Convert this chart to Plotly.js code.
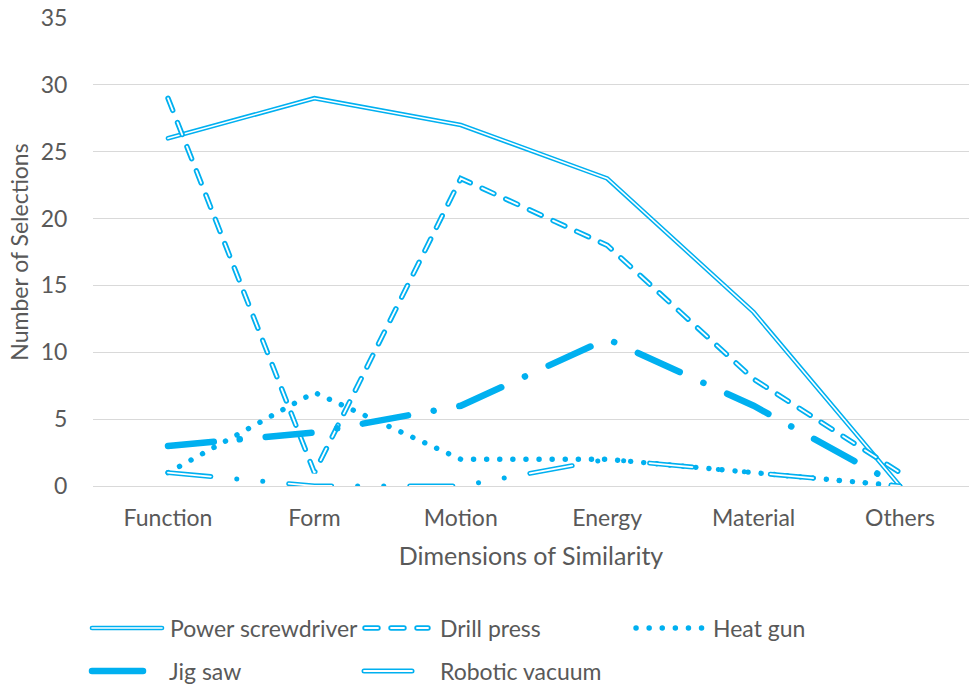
<!DOCTYPE html>
<html>
<head>
<meta charset="utf-8">
<script src="https://cdn.plot.ly/plotly-3.0.1.min.js"></script>
<style>
  html, body { margin: 0; padding: 0; background: #fff; overflow: hidden; }
  #chart { width: 969px; height: 685px; }
  /* rounded caps give the capsule dashes and round dots */
  .scatterlayer .js-line, .shapelayer path { stroke-linecap: round !important; }
</style>
</head>
<body>
<div id="chart"></div>
<script>
// Number of selections per dimension of similarity
const categories = ['Function', 'Form', 'Motion', 'Energy', 'Material', 'Others'];
const powerScrewdriver = [26, 29, 27, 23, 13, 0];
const drillPress       = [29, 1, 23, 18, 8, 1];
const heatGun          = [1, 7, 2, 2, 1, 0];
const jigSaw           = [3, 4, 6, 11, 6, 0];
const roboticVacuum    = [1, 0, 0, 2, 1, 0];
const seriesNames = ['Power screwdriver', 'Drill press', 'Heat gun', 'Jig saw', 'Robotic vacuum'];
const yTicks = [0, 5, 10, 15, 20, 25, 30, 35];

const BLUE = '#00b0f0';
const TEXT = '#595959';
const FONT = 'Lato, Open Sans, sans-serif';
const TICK_SIZE = 23;
const XTITLE_SIZE = 25;
const YTITLE_SIZE = 23;

// plot area in pixels
const W = 969, H = 685;
const L = 93, R = 969, T = 18, B = 486;
const PW = R - L, PH = B - T;
const px = x => (x - L) / PW;
const py = y => (B - y) / PH;

// line styles
const styles = {
  ps: { outer: { width: 4.6, dash: 'solid' }, inner: { width: 1.6, dash: 'solid' } },
  dp: { outer: { width: 5.4, dash: '13px,13px' }, inner: { width: 1.8, dash: '13px,13px' } },
  hg: { outer: { width: 5.4, dash: '0.1px,13px' } },
  js: { outer: { width: 6.5, dash: '46px,26px,0.1px,26px' } },
  rv: { outer: { width: 5, dash: '43px,26px,0.1px,26px,0.1px,26px' }, inner: { width: 1.8, dash: '43px,78.2px' } }
};

function line(y, name, st, color) {
  return {
    type: 'scatter', mode: 'lines', x: categories, y: y, name: name,
    showlegend: false, hoverinfo: 'skip',
    line: { color: color, width: st.width, dash: st.dash }
  };
}

const traces = [
  line(powerScrewdriver, seriesNames[0], styles.ps.outer, BLUE),
  line(powerScrewdriver, seriesNames[0], styles.ps.inner, '#ffffff'),
  line(drillPress, seriesNames[1], styles.dp.outer, BLUE),
  line(drillPress, seriesNames[1], styles.dp.inner, '#ffffff'),
  line(heatGun, seriesNames[2], styles.hg.outer, BLUE),
  line(jigSaw, seriesNames[3], styles.js.outer, BLUE),
  line(roboticVacuum, seriesNames[4], styles.rv.outer, BLUE),
  line(roboticVacuum, seriesNames[4], styles.rv.inner, '#ffffff')
];

// legend: two rows of line samples and labels
const legendItems = [
  { name: seriesNames[0], x0: 92,  x1: 162, y: 628, tx: 168, st: styles.ps },
  { name: seriesNames[1], x0: 365, x1: 428, y: 628, tx: 438, st: styles.dp },
  { name: seriesNames[2], x0: 636, x1: 702, y: 628, tx: 711, st: styles.hg },
  { name: seriesNames[3], x0: 92,  x1: 143, y: 671, tx: 167, st: { outer: { width: 6.5, dash: 'solid' } } },
  { name: seriesNames[4], x0: 364, x1: 412, y: 671, tx: 438, st: { outer: { width: 5, dash: 'solid' }, inner: { width: 1.8, dash: 'solid' } } }
];

const shapes = [];
const annotations = [];
legendItems.forEach(it => {
  shapes.push({ type: 'line', xref: 'paper', yref: 'paper', layer: 'above',
    x0: px(it.x0), x1: px(it.x1), y0: py(it.y), y1: py(it.y),
    line: { color: BLUE, width: it.st.outer.width, dash: it.st.outer.dash } });
  if (it.st.inner) {
    shapes.push({ type: 'line', xref: 'paper', yref: 'paper', layer: 'above',
      x0: px(it.x0), x1: px(it.x1), y0: py(it.y), y1: py(it.y),
      line: { color: '#ffffff', width: it.st.inner.width, dash: it.st.inner.dash } });
  }
  annotations.push({ xref: 'paper', yref: 'paper', x: px(it.tx), y: py(it.y),
    xanchor: 'left', yanchor: 'middle', showarrow: false, text: it.name,
    font: { family: FONT, size: TICK_SIZE, color: TEXT } });
});

// category axis range so that the first category sits 75px inside the left edge
const step = 146.4;
const xr0 = -75 / step;
const xr1 = xr0 + PW / step;

const layout = {
  width: W, height: H,
  margin: { l: L, r: W - R, t: T, b: H - B, pad: 0 },
  paper_bgcolor: '#ffffff', plot_bgcolor: '#ffffff',
  showlegend: false, hovermode: false,
  font: { family: FONT, size: TICK_SIZE, color: TEXT },
  xaxis: {
    type: 'category', range: [xr0, xr1],
    showgrid: false, zeroline: false, showline: false,
    ticks: 'outside', ticklen: 11, tickcolor: 'rgba(0,0,0,0)',
    tickfont: { family: FONT, size: TICK_SIZE, color: TEXT },
    title: { text: 'Dimensions of Similarity', standoff: 17, font: { family: FONT, size: XTITLE_SIZE, color: TEXT } }
  },
  yaxis: {
    range: [0, 35], tickvals: yTicks, ticktext: yTicks.map(String),
    showgrid: true, gridcolor: '#d9d9d9', gridwidth: 1,
    zeroline: true, zerolinecolor: '#d9d9d9', zerolinewidth: 1,
    showline: false,
    ticks: 'outside', ticklen: 20, tickcolor: 'rgba(0,0,0,0)',
    tickfont: { family: FONT, size: TICK_SIZE, color: TEXT },
    title: { text: 'Number of Selections', standoff: 5, font: { family: FONT, size: YTITLE_SIZE, color: TEXT } }
  },
  shapes: shapes,
  annotations: annotations
};

Plotly.newPlot('chart', traces, layout, { staticPlot: true, displayModeBar: false });
</script>
</body>
</html>
